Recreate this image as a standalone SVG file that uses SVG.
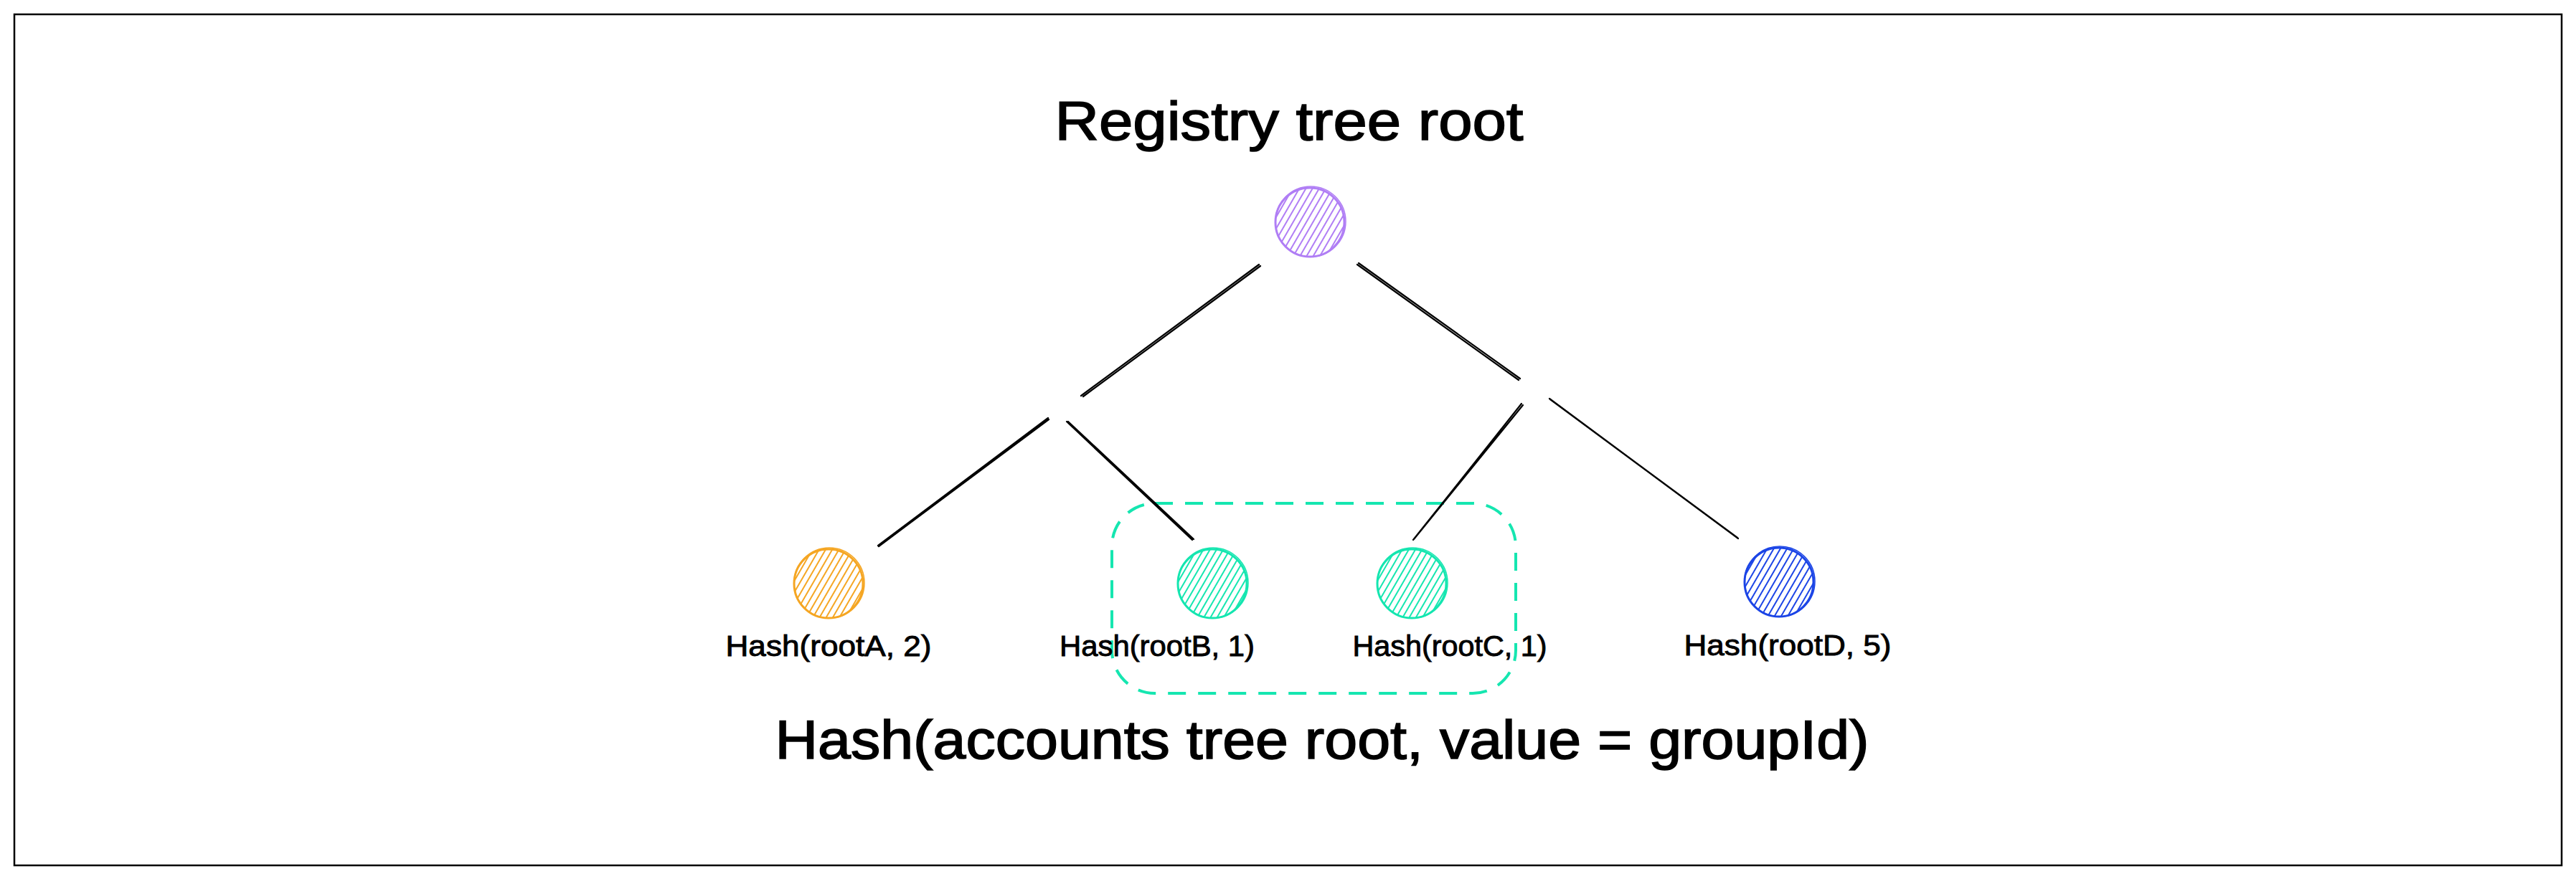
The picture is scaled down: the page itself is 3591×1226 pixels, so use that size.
<svg xmlns="http://www.w3.org/2000/svg" width="3591" height="1226" viewBox="0 0 3591 1226">
  <style>
    .t { font-family: "Liberation Sans", Arial, sans-serif; fill: #000; text-anchor: middle; stroke: #000; }
    .big { font-size: 76px; stroke-width: 1.6px; }
    .lbl { font-size: 40px; stroke-width: 0.9px; }
    .conn { stroke: #000; stroke-width: 2.2; fill: none; stroke-linecap: round; }
    .node { stroke-width: 3; }
  </style>
  <defs>
    <pattern id="hP" patternUnits="userSpaceOnUse" width="8" height="8" patternTransform="rotate(30)">
      <line x1="4" y1="0" x2="4" y2="8" stroke="#b07ef5" stroke-width="2"/>
    </pattern>
    <pattern id="hO" patternUnits="userSpaceOnUse" width="8" height="8" patternTransform="rotate(30)">
      <line x1="4" y1="0" x2="4" y2="8" stroke="#f5a623" stroke-width="2"/>
    </pattern>
    <pattern id="hT" patternUnits="userSpaceOnUse" width="8" height="8" patternTransform="rotate(30)">
      <line x1="4" y1="0" x2="4" y2="8" stroke="#15e6b0" stroke-width="2"/>
    </pattern>
    <pattern id="hB" patternUnits="userSpaceOnUse" width="8" height="8" patternTransform="rotate(30)">
      <line x1="4" y1="0" x2="4" y2="8" stroke="#1c45e6" stroke-width="2"/>
    </pattern>
  </defs>

  <rect x="0" y="0" width="3591" height="1226" fill="#fff"/>
  <rect id="frame" x="20" y="20" width="3551" height="1187" fill="none" stroke="#000" stroke-width="2.5"/>

  <g id="title">
    <text class="t big" x="1797" y="195" textLength="653" lengthAdjust="spacingAndGlyphs">Registry tree root</text>
  </g>

  <g id="group-box">
    <rect x="1550" y="702" width="563" height="265" rx="60" ry="60" fill="none" stroke="#15e6b0" stroke-width="4" stroke-dasharray="25 17"/>
  </g>

  <g id="connectors">
    <path class="conn" d="M1755 369 L1507 552 M1757 371 L1510 553"/>
    <path class="conn" d="M1894 367 L2119 528 M1892 369 L2117 530"/>
    <path class="conn" d="M1461 583 L1224 761 M1462 585 L1225 762"/>
    <path class="conn" d="M1487 588 L1662 753 M1489 588 L1664 752"/>
    <path class="conn" d="M2121 563 L1970 753 M2123 565 L1971 752"/>
    <path class="conn" d="M2160 556 L2422 750 M2161 557 L2423 751"/>
  </g>

  <g id="node-root">
    <circle class="node" cx="1826" cy="310" r="48" fill="url(#hP)" stroke="#b07ef5"/>
    <circle cx="1827" cy="309" r="49" fill="none" stroke="#b07ef5" stroke-width="1.5"/>
  </g>

  <g id="node-A">
    <circle class="node" cx="1155" cy="814" r="48" fill="url(#hO)" stroke="#f5a623"/>
    <circle cx="1156" cy="813" r="49" fill="none" stroke="#f5a623" stroke-width="1.5"/>
    <text class="t lbl" x="1155" y="915" textLength="287" lengthAdjust="spacingAndGlyphs">Hash(rootA, 2)</text>
  </g>

  <g id="node-B">
    <circle class="node" cx="1690" cy="814" r="48" fill="url(#hT)" stroke="#15e6b0"/>
    <circle cx="1691" cy="813" r="49" fill="none" stroke="#15e6b0" stroke-width="1.5"/>
    <text class="t lbl" x="1613" y="915" textLength="272" lengthAdjust="spacingAndGlyphs">Hash(rootB, 1)</text>
  </g>

  <g id="node-C">
    <circle class="node" cx="1968" cy="814" r="48" fill="url(#hT)" stroke="#15e6b0"/>
    <circle cx="1969" cy="813" r="49" fill="none" stroke="#15e6b0" stroke-width="1.5"/>
    <text class="t lbl" x="2021" y="915" textLength="271" lengthAdjust="spacingAndGlyphs">Hash(rootC, 1)</text>
  </g>

  <g id="node-D">
    <circle class="node" cx="2480" cy="812" r="48" fill="url(#hB)" stroke="#1c45e6"/>
    <circle cx="2481" cy="811" r="49" fill="none" stroke="#1c45e6" stroke-width="1.5"/>
    <text class="t lbl" x="2492" y="914" textLength="289" lengthAdjust="spacingAndGlyphs">Hash(rootD, 5)</text>
  </g>

  <g id="caption">
    <text class="t big" x="1843" y="1058" textLength="1525" lengthAdjust="spacingAndGlyphs">Hash(accounts tree root, value = groupId)</text>
  </g>
</svg>
